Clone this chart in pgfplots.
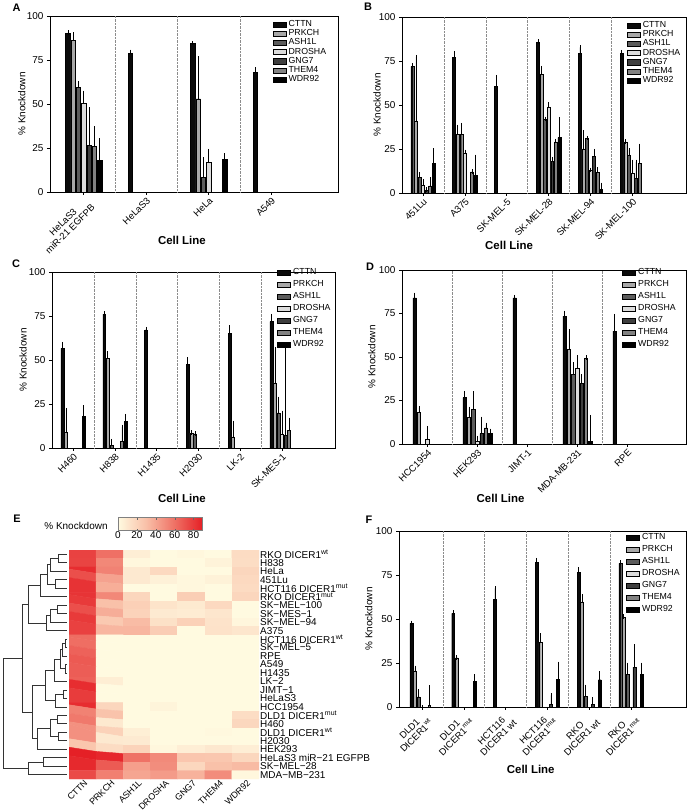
\documentclass[border=0pt]{standalone}
\usepackage{fontspec}
\setmainfont{Liberation Sans}
\usepackage{pgfplots}
\usepackage{pgfplotstable}
\pgfplotsset{compat=1.18}

\definecolor{cCTTN}{HTML}{0A0A0A}
\definecolor{cPRKCH}{HTML}{A8A8A8}
\definecolor{cASH}{HTML}{5C5C5C}
\definecolor{cDRO}{HTML}{DCDCDC}
\definecolor{cGNG}{HTML}{3E3E3E}
\definecolor{cTHEM}{HTML}{828282}
\definecolor{cWDR}{HTML}{000000}

\pgfplotsset{
  /pgf/number format/assume math mode=true,
  kdbar/.style={ybar, bar width=0.07, bar shift=0pt, draw=black, line width=0.4pt, fill=#1,
    error bars/.cd, y dir=plus, y explicit,
    error bar style={line width=0.6pt, draw=black},
    error mark options={line width=0.6pt, draw=black, mark size=2.2bp}},
  kdaxis/.style={anchor=south west, scale only axis,
    ymin=0, ymax=100, ytick={0,25,50,75,100},
    axis line style={line width=0.8pt}, tick style={line width=0.6pt, black},
    tick align=outside, major tick length=3bp, tick pos=left,
    tick label style={font=\fontsize{10}{11}\selectfont},
    ylabel={\% Knockdown}, ylabel style={font=\fontsize{10}{11}\selectfont, anchor=center},
    xlabel={Cell Line}, xlabel style={font=\bfseries\fontsize{11.5}{12}\selectfont, anchor=center},
    xticklabel style={rotate=45, anchor=north east, align=center, inner sep=1bp, font=\fontsize{9.5}{10}\selectfont},
    extra x tick style={grid=major, major grid style={densely dotted, black!45, line width=0.5pt}, major tick length=0pt},
    legend image code/.code={\draw[##1, draw=black, line width=0.4pt] (0bp,-2.6bp) rectangle (13bp,2.6bp);},
    legend style={draw=none, fill=none, anchor=north west, inner sep=0pt, font=\fontsize{8.8}{9}\selectfont,
      /tikz/every odd column/.append style={column sep=2bp}},
    legend cell align=left,
  },
  smallleg/.style={legend style={row sep=0.2bp, nodes={inner sep=0.5bp, text height=6.2bp, text depth=1.8bp}}},
  bigleg/.style={legend style={row sep=1.5bp, nodes={inner sep=0.5bp, text height=7bp, text depth=2.5bp}}},
}

\newcommand{\kdplots}[1]{%
  \addplot[kdbar=cCTTN] table[x expr=\thisrow{g}-0.255, y=c, y error=ce] {#1};
  \addplot[kdbar=cPRKCH] table[x expr=\thisrow{g}-0.17, y=p, y error=pe] {#1};
  \addplot[kdbar=cASH] table[x expr=\thisrow{g}-0.085, y=a, y error=ae] {#1};
  \addplot[kdbar=cDRO] table[x expr=\thisrow{g}, y=d, y error=de] {#1};
  \addplot[kdbar=cGNG] table[x expr=\thisrow{g}+0.085, y=n, y error=ne] {#1};
  \addplot[kdbar=cTHEM] table[x expr=\thisrow{g}+0.17, y=t, y error=te] {#1};
  \addplot[kdbar=cWDR] table[x expr=\thisrow{g}+0.255, y=w, y error=we] {#1};
  \legend{CTTN,PRKCH,ASH1L,DROSHA,GNG7,THEM4,WDR92}
}

\pgfplotstableread{
g c ce p pe a ae d de n ne t te w we
0 90 0.6 86.2 3.4 59.3 2.3 50.2 6.1 26.5 20.3 25.9 10.1 18 11.4
1 78.6 1 nan nan nan nan nan nan nan nan nan nan nan nan
2 84.3 0.3 53 22.8 8.5 9.9 17 6.3 nan nan nan nan 18.4 2.4
3 68 1.5 nan nan nan nan nan nan nan nan nan nan nan nan
}\tabA

\pgfplotstableread{
g c ce p pe a ae d de n ne t te w we
0 71.9 0.5 41 36.2 8.7 1.9 4.4 2.3 1.5 0.5 4 3.6 16.7 7.6
1 77 2.5 33.3 4.3 33.3 5.3 22.8 0.6 nan nan 12 0.3 10 10.5
2 60.5 5.3 nan nan nan nan nan nan nan nan nan nan nan nan
3 85.7 0.3 67.5 3.5 42 0.2 49 1.4 18 1.2 29 0.5 31.5 10.5
4 79.5 3.2 25 9.4 31 0.2 13 0.2 21 2.8 11.6 1.8 2 2.7
5 79.5 0.5 29 0.3 21.5 2.8 11.4 6.3 8.2 9.5 17 9.8 nan nan
}\tabB

\pgfplotstableread{
g c ce p pe a ae d de n ne t te w we
0 56.6 2.4 8.8 12.8 nan nan nan nan nan nan nan nan 17.9 5.1
1 76 0.4 51 2.8 1.5 2.5 nan nan nan nan 3.8 8.2 15 3.1
2 66.7 0.8 nan nan nan nan nan nan nan nan nan nan nan nan
3 47.7 2.7 8.5 0.3 8 0.3 nan nan nan nan nan nan nan nan
4 65.2 3.4 6.3 8 nan nan nan nan nan nan nan nan nan nan
5 71.8 3.2 37 19 20 8 8 12 7 49 10 6 nan nan
}\tabC

\pgfplotstableread{
g c ce p pe a ae d de n ne t te w we
0 84 1.7 18.3 2.3 nan nan 3 6.2 nan nan nan nan nan nan
1 26.7 2.5 15.5 4.7 20 9 1.6 1.9 6 8.5 9.2 1.8 6 1.5
2 84 0.5 nan nan nan nan nan nan nan nan nan nan nan nan
3 73.5 1.9 54.4 10.4 40 5.6 43.7 6.1 35 3.9 49.4 0.3 1.5 14
4 64.9 8.6 nan nan nan nan nan nan nan nan nan nan nan nan
}\tabD

\pgfplotstableread{
g c ce p pe a ae d de n ne t te w we
0 47.5 0.3 20.5 1.7 5.7 3.4 0 0 nan nan 1 10 nan nan
1 53.2 0.4 28 0.2 nan nan nan nan nan nan nan nan 14.6 2.8
2 61.2 6.2 nan nan nan nan nan nan nan nan nan nan nan nan
3 82 1.5 36.6 4.1 nan nan nan nan 1.5 5.1 nan nan 15.7 8.9
4 76.5 1.7 59.8 2.9 6 5.4 nan nan 1.5 2.9 nan nan 15.5 3.5
5 81.6 0.6 51 0.5 18.5 5.5 nan nan 22.7 11.8 nan nan 18.5 5.5
}\tabF

\begin{document}
\begin{tikzpicture}
\path[use as bounding box] (0,0) rectangle (688bp,812bp);

% ---------- A ----------
\begin{axis}[kdaxis, smallleg, at={(50bp,620bp)}, width=288bp, height=176bp,
  xmin=-0.54, xmax=4.07, xtick={0,1,2,3},
  xticklabels={{HeLaS3\\miR-21 EGFPB},HeLaS3,HeLa,A549},
  extra x ticks={0.5,1.5,2.5}, extra x tick labels={},
  ylabel style={at={(axis description cs:-0.098,0.5)}},
  xlabel style={at={(axis description cs:0.458,-0.273)}},
  legend style={at={(0.7726,0.979)}}]
\kdplots{\tabA}
\end{axis}

% ---------- B ----------
\begin{axis}[kdaxis, smallleg, at={(402bp,619bp)}, width=284bp, height=176bp,
  xmin=-0.5, xmax=6.28, xtick={0,...,5},
  xticklabels={451Lu,A375,SK-MEL-5,SK-MEL-28,SK-MEL-94,SK-MEL-100},
  extra x ticks={0.5,1.5,2.5,3.5,4.5}, extra x tick labels={},
  ylabel style={at={(axis description cs:-0.088,0.5)}},
  xlabel style={at={(axis description cs:0.377,-0.295)}},
  legend style={at={(0.791,0.979)}}]
\kdplots{\tabB}
\end{axis}

% ---------- C ----------
\begin{axis}[kdaxis, bigleg, at={(52bp,364bp)}, width=283bp, height=176bp,
  xmin=-0.505, xmax=6.27, xtick={0,...,5},
  xticklabels={H460,H838,H1435,H2030,LK-2,SK-MES-1},
  extra x ticks={0.5,1.5,2.5,3.5,4.5}, extra x tick labels={},
  ylabel style={at={(axis description cs:-0.102,0.5)}},
  xlabel style={at={(axis description cs:0.459,-0.284)}},
  legend style={at={(0.795,1.028)}}]
\kdplots{\tabC}
\end{axis}

% ---------- D ----------
\begin{axis}[kdaxis, bigleg, at={(402bp,368bp)}, width=284bp, height=174bp,
  xmin=-0.506, xmax=5.17, xtick={0,...,4},
  xticklabels={HCC1954,HEK293,JIMT-1,MDA-MB-231,RPE},
  extra x ticks={0.5,1.5,2.5,3.5}, extra x tick labels={},
  ylabel style={at={(axis description cs:-0.106,0.5)}},
  xlabel style={at={(axis description cs:0.347,-0.31)}},
  legend style={at={(0.775,1.017)}}]
\kdplots{\tabD}
\end{axis}

% ---------- F ----------
\begin{axis}[kdaxis, bigleg, at={(399bp,105bp)}, width=287bp, height=176bp,
  xmin=-0.553, xmax=6.32, xtick={0,...,5},
  xticklabels={{DLD1\\DICER1\textsuperscript{wt}},{DLD1\\DICER1\textsuperscript{mut}},{HCT116\\DICER1 wt},{HCT116\\DICER1\textsuperscript{mut}},{RKO\\DICER1 wt},{RKO\\DICER1\textsuperscript{mut}}},
  extra x ticks={0.5,1.5,2.5,3.5,4.5}, extra x tick labels={},
  ylabel style={at={(axis description cs:-0.105,0.5)}},
  xlabel style={at={(axis description cs:0.459,-0.352)}},
  legend style={at={(0.791,0.994)}}]
\kdplots{\tabF}
\end{axis}

% ---------- E dendrogram ----------
\begin{axis}[at={(0bp,33bp)}, anchor=south west, scale only axis, width=69bp, height=229bp,
  xmin=0, xmax=69, ymin=-0.5, ymax=26.5, y dir=reverse, hide axis, unbounded coords=jump]
\addplot[line width=0.8pt, color=black!80, mark=none] table[row sep=\\] {
x y\\
67 0\\ 58 0\\ 58 1\\ 67 1\\ nan nan\\
58 0.5\\ 50 0.5\\ 50 2\\ 67 2\\ nan nan\\
67 3\\ 55 3\\ 55 4\\ 67 4\\ nan nan\\
50 1.25\\ 47 1.25\\ 47 3.5\\ 55 3.5\\ nan nan\\
47 2.375\\ 40 2.375\\ 40 5\\ 67 5\\ nan nan\\
67 6\\ 57 6\\ 57 7\\ 67 7\\ nan nan\\
57 6.5\\ 50 6.5\\ 50 8\\ 67 8\\ nan nan\\
50 7.25\\ 46 7.25\\ 46 9\\ 67 9\\ nan nan\\
40 3.6875\\ 28 3.6875\\ 28 8.125\\ 46 8.125\\ nan nan\\
67 10\\ 65 10\\ 65 11\\ 67 11\\ nan nan\\
65 10.5\\ 62 10.5\\ 62 12\\ 67 12\\ nan nan\\
67 13\\ 65 13\\ 65 14\\ 67 14\\ nan nan\\
62 11.25\\ 60 11.25\\ 60 13.5\\ 65 13.5\\ nan nan\\
60 12.375\\ 54 12.375\\ 54 15\\ 67 15\\ nan nan\\
67 16\\ 63 16\\ 63 17\\ 67 17\\ nan nan\\
63 16.5\\ 55 16.5\\ 55 18\\ 67 18\\ nan nan\\
54 13.6875\\ 45 13.6875\\ 45 17.25\\ 55 17.25\\ nan nan\\
67 19\\ 57 19\\ 57 20\\ 67 20\\ nan nan\\
67 21\\ 58 21\\ 58 22\\ 67 22\\ nan nan\\
57 19.5\\ 50 19.5\\ 50 21.5\\ 58 21.5\\ nan nan\\
50 20.5\\ 37 20.5\\ 37 23\\ 67 23\\ nan nan\\
45 15.47\\ 32 15.47\\ 32 21.75\\ 37 21.75\\ nan nan\\
28 5.906\\ 22 5.906\\ 22 18.61\\ 32 18.61\\ nan nan\\
67 24\\ 43 24\\ 43 25\\ 67 25\\ nan nan\\
43 24.5\\ 28 24.5\\ 28 26\\ 67 26\\ nan nan\\
22 12.26\\ 3 12.26\\ 3 25.25\\ 28 25.25\\
};
\end{axis}

% ---------- E heatmap ----------
\begin{axis}[at={(69bp,33bp)}, anchor=south west, scale only axis, width=190bp, height=229bp,
  xmin=-0.5, xmax=6.5, ymin=-0.5, ymax=26.5, y dir=reverse,
  axis line style={draw=none}, major tick length=0pt,
  xtick={0,...,6}, xticklabels={CTTN,PRKCH,ASH1L,DROSHA,GNG7,THEM4,WDR92},
  xticklabel style={rotate=45, anchor=north east, inner sep=0.8bp, font=\fontsize{9}{10}\selectfont, xshift=1.5bp},
  ytick={0,...,26},
  yticklabels={RKO DICER1\textsuperscript{wt},H838,HeLa,451Lu,HCT116 DICER1\textsuperscript{mut},RKO DICER1\textsuperscript{mut},SK−MEL−100,SK−MES−1,SK−MEL−94,A375,HCT116 DICER1\textsuperscript{wt},SK−MEL−5,RPE,A549,H1435,LK−2,JIMT−1,HeLaS3,HCC1954,DLD1 DICER1\textsuperscript{mut},H460,DLD1 DICER1\textsuperscript{wt},H2030,HEK293,HeLaS3 miR−21 EGFPB,SK−MEL−28,MDA−MB−231},
  yticklabel pos=right,
  yticklabel style={anchor=west, inner sep=1bp, font=\fontsize{10}{10}\selectfont},
  colormap={kd}{rgb255=(255,250,224) rgb255=(249,192,168) rgb255=(239,114,102) rgb255=(229,32,38)},
  point meta min=0, point meta max=89,
  colorbar horizontal,
  colorbar style={at={(0.258,1.0844)}, anchor=south west, scale only axis, width=84bp, height=13bp,
    xtick={0,20,40,60,80}, xticklabel style={font=\fontsize{10}{10}\selectfont, inner sep=1bp},
    axis line style={draw=black!50, line width=0.4pt}, major tick length=2bp, tick style={black!60}},
  ]
\addplot[matrix plot*, mesh/cols=7, point meta=explicit]
  table[x expr={mod(\coordindex,7)}, y expr={floor(\coordindex/7)}, meta=v, row sep=\\] {
v\\
76.5\\ 59.8\\ 6\\ 0\\ 1.5\\ 0\\ 15.5\\
76\\ 51\\ 1.5\\ 0\\ 0\\ 3.8\\ 15\\
84.3\\ 53\\ 8.5\\ 17\\ 0\\ 0\\ 18.4\\
71.9\\ 41\\ 8.7\\ 4.4\\ 1.5\\ 4\\ 16.7\\
82\\ 36.6\\ 0\\ 0\\ 1.5\\ 0\\ 15.7\\
81.6\\ 51\\ 18.5\\ 0\\ 22.7\\ 0\\ 18.5\\
79.5\\ 29\\ 21.5\\ 11.4\\ 8.2\\ 17\\ 0\\
71.8\\ 37\\ 20\\ 8\\ 7\\ 10\\ 0\\
79.5\\ 25\\ 31\\ 13\\ 21\\ 11.6\\ 2\\
77\\ 33.3\\ 33.3\\ 22.8\\ 0\\ 12\\ 10\\
61.2\\ 0\\ 0\\ 0\\ 0\\ 0\\ 0\\
60.5\\ 0\\ 0\\ 0\\ 0\\ 0\\ 0\\
64.9\\ 0\\ 0\\ 0\\ 0\\ 0\\ 0\\
68\\ 0\\ 0\\ 0\\ 0\\ 0\\ 0\\
66.7\\ 0\\ 0\\ 0\\ 0\\ 0\\ 0\\
65.2\\ 6.3\\ 0\\ 0\\ 0\\ 0\\ 0\\
84\\ 0\\ 0\\ 0\\ 0\\ 0\\ 0\\
78.6\\ 0\\ 0\\ 0\\ 0\\ 0\\ 0\\
84\\ 18.3\\ 0\\ 3\\ 0\\ 0\\ 0\\
53.2\\ 28\\ 0\\ 0\\ 0\\ 0\\ 14.6\\
56.6\\ 8.8\\ 0\\ 0\\ 0\\ 0\\ 17.9\\
47.5\\ 20.5\\ 5.7\\ 0\\ 0\\ 1\\ 0\\
47.7\\ 8.5\\ 8\\ 0\\ 0\\ 0\\ 0\\
26.7\\ 15.5\\ 20\\ 1.6\\ 6\\ 9.2\\ 6\\
90\\ 86.2\\ 59.3\\ 50.2\\ 26.5\\ 25.9\\ 18\\
85.7\\ 67.5\\ 42\\ 49\\ 18\\ 29\\ 31.5\\
73.5\\ 54.4\\ 40\\ 43.7\\ 35\\ 49.4\\ 1.5\\
};
\end{axis}

% ---------- texts ----------
\node[font=\fontsize{10}{11}\selectfont] at (76bp,286bp) {\% Knockdown};
\node[font=\bfseries\fontsize{11}{11}\selectfont] at (16.7bp,804.5bp) {A};
\node[font=\bfseries\fontsize{11}{11}\selectfont] at (368bp,805bp) {B};
\node[font=\bfseries\fontsize{11}{11}\selectfont] at (16bp,548bp) {C};
\node[font=\bfseries\fontsize{11}{11}\selectfont] at (370bp,545bp) {D};
\node[font=\bfseries\fontsize{11}{11}\selectfont] at (17bp,293bp) {E};
\node[font=\bfseries\fontsize{11}{11}\selectfont] at (369bp,292bp) {F};
\end{tikzpicture}
\end{document}
